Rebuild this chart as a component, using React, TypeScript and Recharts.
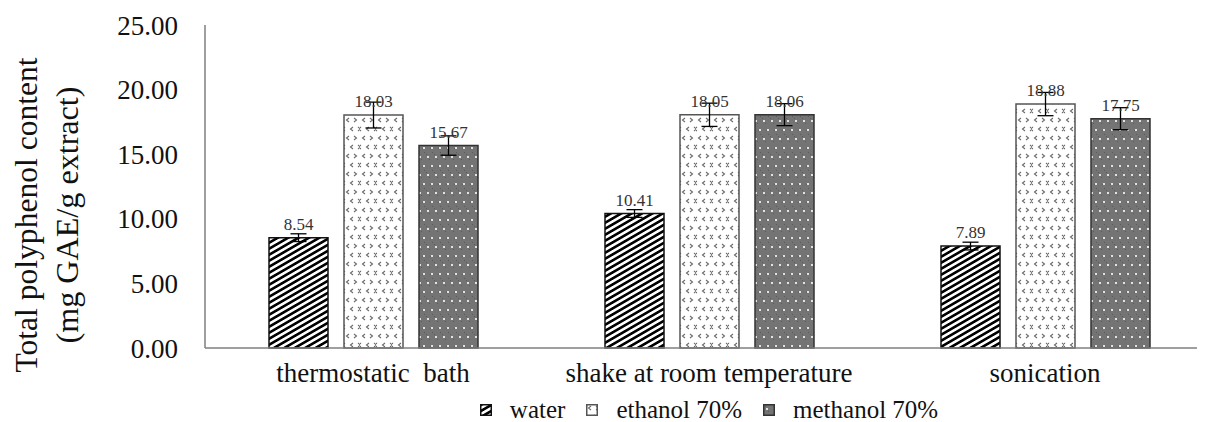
import { BarChart, Bar, XAxis, YAxis, ErrorBar, LabelList, Legend } from "recharts";

const categories = ["thermostatic\u00a0 bath", "shake at room temperature", "sonication"];
const water = [8.54, 10.41, 7.89];
const waterErr = [0.3, 0.3, 0.3];
const ethanol = [18.03, 18.05, 18.88];
const ethanolErr = [1.0, 0.9, 0.9];
const methanol = [15.67, 18.06, 17.75];
const methanolErr = [0.75, 0.85, 0.85];
const yTicks = [0, 5, 10, 15, 20, 25];

const seriesNames = ["water", "ethanol 70%", "methanol 70%"];

const data = categories.map((name, i) => ({
  name,
  water: water[i],
  waterErr: waterErr[i],
  ethanol: ethanol[i],
  ethanolErr: ethanolErr[i],
  methanol: methanol[i],
  methanolErr: methanolErr[i],
}));

const FONT = '"Liberation Serif", "Times New Roman", serif';

// patterns shared by bars and legend swatches
const Patterns = () => (
  <svg width={0} height={0} style={{ position: "absolute" }}>
    <defs>
      <pattern id="pWater" width="20" height="6" patternUnits="userSpaceOnUse" patternTransform="skewY(-30)">
        <rect width="20" height="6" fill="#fff" />
        <rect width="20" height="3" fill="#000" />
      </pattern>
      <pattern id="pEthanol" width="16" height="18" patternUnits="userSpaceOnUse">
        <rect width="16" height="18" fill="#fff" />
        <path d="M5 2 L2.5 4 L5 6 M10 2 L12.5 4 L10 6 M9 11 L6.5 13 L9 15 M14 11 L16.5 13 L14 15 M1 11 L-1.5 13 L1 15" stroke="#6a6a6a" strokeWidth="1.1" fill="none" />
      </pattern>
      <pattern id="pMethanol" width="8" height="18" patternUnits="userSpaceOnUse">
        <rect width="8" height="18" fill="#747474" />
        <rect x="0" y="0" width="1" height="1" fill="#5a5a5a" />
        <rect x="2" y="2" width="1" height="1" fill="#5a5a5a" />
        <rect x="5" y="7" width="1" height="1" fill="#5a5a5a" />
        <rect x="6" y="14" width="1" height="1" fill="#5a5a5a" />
        <rect x="3" y="4" width="2" height="2" fill="#e2e2e2" />
        <rect x="7" y="13" width="2" height="2" fill="#e2e2e2" />
        <rect x="-1" y="13" width="2" height="2" fill="#e2e2e2" />
      </pattern>
    </defs>
  </svg>
);

const fills = ["url(#pWater)", "url(#pEthanol)", "url(#pMethanol)"];
const strokes = ["#111", "#555", "#333"];

const LegendContent = () => (
  <div
    style={{
      width: 1205,
      height: 26,
      boxSizing: "border-box",
      paddingLeft: 197,
      display: "flex",
      alignItems: "center",
      justifyContent: "center",
      fontFamily: FONT,
      fontSize: 25,
      color: "#111",
    }}
  >
    {seriesNames.map((n, i) => (
      <div key={n} style={{ display: "flex", alignItems: "center", marginLeft: i === 0 ? 0 : 21 }}>
        <svg width={12} height={12}>
          <rect x={0.75} y={0.75} width={10.5} height={10.5} fill={fills[i]} stroke={strokes[i]} strokeWidth={1.5} />
        </svg>
        <span style={{ marginLeft: 18, whiteSpace: "pre" }}>{n}</span>
      </div>
    ))}
  </div>
);

const YLabel = () => (
  <g fontFamily={FONT} fontSize={32} fill="#111">
    <text
      x={29}
      y={207}
      transform="rotate(-90 29 207)"
      textAnchor="middle"
      textLength={315}
      lengthAdjust="spacingAndGlyphs"
    >
      Total polyphenol content
    </text>
    <text
      x={70}
      y={207}
      transform="rotate(-90 70 207)"
      textAnchor="middle"
      textLength={257}
      lengthAdjust="spacingAndGlyphs"
    >
      (mg GAE/g extract)
    </text>
  </g>
);

const valueLabel = {
  fontFamily: FONT,
  fontSize: 17,
  fill: "#333",
};

export default function App() {
  return (
    <div style={{ position: "relative" }}>
      <Patterns />
      <BarChart
        width={1205}
        height={420}
        data={data}
        margin={{ top: 17, right: 0, left: 0, bottom: 5 }}
        barSize={59}
        barGap={16}
      >
        <XAxis
          dataKey="name"
          height={49}
          axisLine={{ stroke: "#7f7f7f", strokeWidth: 1.5 }}
          tickLine={false}
          tickMargin={9}
          tick={{ fontFamily: FONT, fontSize: 27, fill: "#111" }}
          interval={0}
        />
        <YAxis
          width={197}
          domain={[0, 25]}
          ticks={yTicks}
          tickFormatter={(v) => Number(v).toFixed(2)}
          axisLine={{ stroke: "#7f7f7f", strokeWidth: 1.5 }}
          tickLine={false}
          tickMargin={21}
          tick={{ fontFamily: FONT, fontSize: 27, fill: "#111" }}
          label={() => <YLabel />}
        />
        <Legend verticalAlign="bottom" wrapperStyle={{ left: 0, width: 1205 }} content={() => <LegendContent />} />
        <Bar dataKey="water" name="water" fill={fills[0]} stroke={strokes[0]} strokeWidth={1.5} isAnimationActive={false}>
          <ErrorBar dataKey="waterErr" width={8} stroke="#000" strokeWidth={1.3} direction="y" />
          <LabelList dataKey="water" position="top" offset={8} formatter={(v: any) => Number(v).toFixed(2)} style={valueLabel} />
        </Bar>
        <Bar dataKey="ethanol" name="ethanol 70%" fill={fills[1]} stroke={strokes[1]} strokeWidth={1.5} isAnimationActive={false}>
          <ErrorBar dataKey="ethanolErr" width={8} stroke="#000" strokeWidth={1.3} direction="y" />
          <LabelList dataKey="ethanol" position="top" offset={8} formatter={(v: any) => Number(v).toFixed(2)} style={valueLabel} />
        </Bar>
        <Bar dataKey="methanol" name="methanol 70%" fill={fills[2]} stroke={strokes[2]} strokeWidth={1.5} isAnimationActive={false}>
          <ErrorBar dataKey="methanolErr" width={8} stroke="#000" strokeWidth={1.3} direction="y" />
          <LabelList dataKey="methanol" position="top" offset={8} formatter={(v: any) => Number(v).toFixed(2)} style={valueLabel} />
        </Bar>
      </BarChart>
    </div>
  );
}
